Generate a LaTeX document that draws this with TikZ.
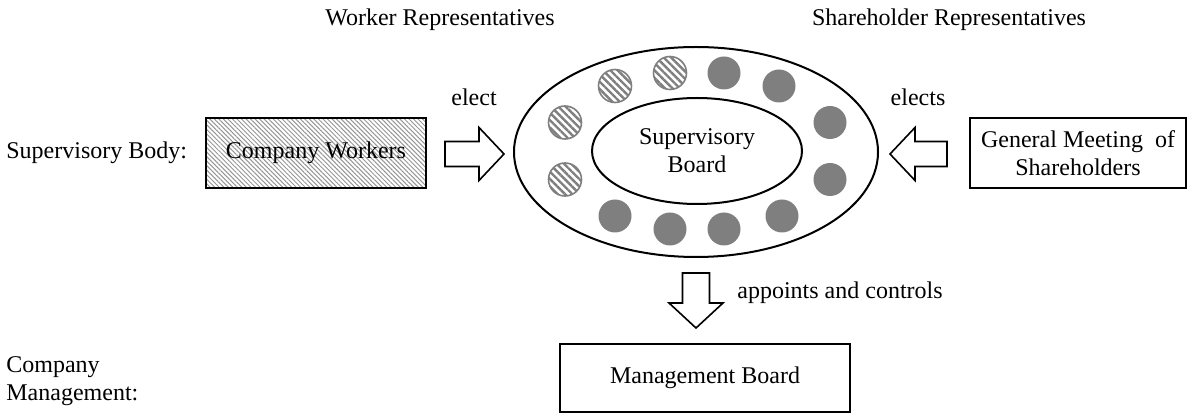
\documentclass[tikz,border=0pt]{standalone}
\usepackage{fontspec}
\setmainfont{Liberation Serif}
\usetikzlibrary{patterns.meta,shapes.geometric}
\definecolor{dotgray}{RGB}{127,127,127}
\definecolor{hatchgray}{RGB}{150,150,150}
\begin{document}
\begin{tikzpicture}[x=0.5pt,y=-0.5pt,
  font=\fontsize{12}{14}\selectfont,
  lbl/.style={inner sep=0pt},
  plainbox/.style={draw,line width=1pt,inner sep=0pt,align=center},
  hatchbox/.style={plainbox,pattern={Lines[angle=-45,distance=1.6pt,line width=0.5pt]},pattern color=hatchgray},
  ring/.style={draw,ellipse,line width=1pt,inner sep=0pt,align=center},
  wdot/.style={circle,inner sep=0pt,minimum size=16.5pt,draw=dotgray,line width=0.8pt,
    pattern={Lines[angle=-45,distance=2.6pt,line width=1.2pt]},pattern color=dotgray},
  sdot/.style={circle,inner sep=0pt,minimum size=16.5pt,fill=dotgray},
  blockarrow/.style={draw,line width=0.8pt,fill=white,line join=miter}
]
\useasboundingbox (0,0) rectangle (1192,416);

% headings
\node[lbl] (wrep) at (440,20) {Worker Representatives};
\node[lbl] (srep) at (949,20) {Shareholder Representatives};
\node[lbl,anchor=west] (sbody) at (6,153) {Supervisory Body:};
\node[lbl,anchor=west,align=left] (cmgmt) at (6,381) {Company\\Management:};

% boxes
\node[hatchbox,minimum width=110pt,minimum height=35pt] (workers) at (316,153) {Company Workers};
\node[plainbox,minimum width=108pt,minimum height=35pt] (gms) at (1078,153) {General Meeting\ \ of\\Shareholders};
\node[plainbox,minimum width=145pt,minimum height=34pt] (mgmt) at (705,378) {Management Board};

% ellipses
\node[ring,minimum width=182pt,minimum height=105pt] (outer) at (696,152) {};
\node[ring,minimum width=105pt,minimum height=53pt] (board) at (697,151) {Supervisory\\Board};

% worker representatives (striped)
\node[wdot] (w1) at (565,122.5) {};
\node[wdot] (w2) at (565,179.5) {};
\node[wdot] (w3) at (615,86) {};
\node[wdot] (w4) at (670,73) {};
% shareholder representatives (solid)
\node[sdot] (s1) at (724,73) {};
\node[sdot] (s2) at (779,86) {};
\node[sdot] (s3) at (830,122.5) {};
\node[sdot] (s4) at (830,179.5) {};
\node[sdot] (s5) at (782,216) {};
\node[sdot] (s6) at (724,229) {};
\node[sdot] (s7) at (670,229) {};
\node[sdot] (s8) at (615,216) {};

% block arrows
\coordinate (la) at (445,154);
\draw[blockarrow] (la) ++(0,-12.5) -- ++(34,0) -- ++(0,-14) -- ++(25,26.5) -- ++(-25,26.5) -- ++(0,-14) -- ++(-34,0) -- cycle;
\coordinate (ra) at (947,154);
\draw[blockarrow] (ra) ++(0,-12.5) -- ++(-32,0) -- ++(0,-14) -- ++(-25,26.5) -- ++(25,26.5) -- ++(0,-14) -- ++(32,0) -- cycle;
\coordinate (da) at (696,273);
\draw[blockarrow] (da) ++(-13.5,0) -- ++(0,30) -- ++(-13.5,0) -- ++(27,25) -- ++(27,-25) -- ++(-13.5,0) -- ++(0,-30) -- cycle;

% arrow labels
\node[lbl] (elect) at (474,97) {elect};
\node[lbl] (elects) at (918,97) {elects};
\node[lbl,anchor=west] (appoints) at (737,293) {appoints and controls};
\end{tikzpicture}
\end{document}
